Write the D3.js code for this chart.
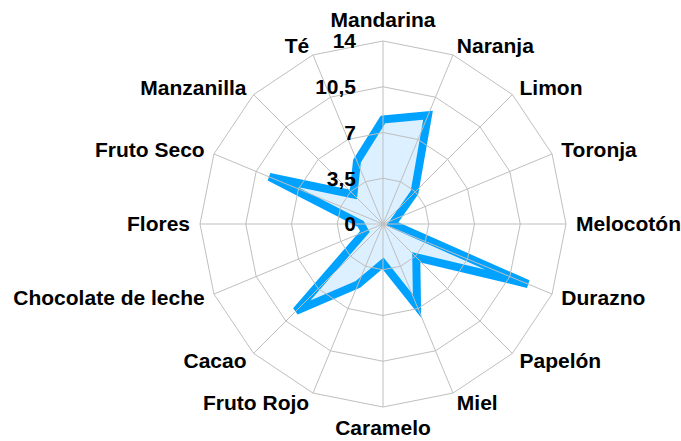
<!DOCTYPE html>
<html>
<head>
<meta charset="utf-8">
<script src="https://cdn.jsdelivr.net/npm/d3@7"></script>
<style>
  body { margin: 0; background: #fff; }
  text { font-family: "Liberation Sans", Arial, sans-serif; font-weight: bold; fill: #000; }
</style>
</head>
<body>
<div id="chart"></div>
<script>
// Categories clockwise from the top
const categories = ["Mandarina", "Naranja", "Limon", "Toronja", "Melocotón", "Durazno",
  "Papelón", "Miel", "Caramelo", "Fruto Rojo", "Cacao", "Chocolate de leche",
  "Flores", "Fruto Seco", "Manzanilla", "Té"];
const values = [8, 9, 3.4, 1.1, 0.7, 12, 3.6, 6.8, 3, 5, 9.4, 1.5, 1.7, 9.4, 3.2, 5.2];
const ticks = [0, 3.5, 7, 10.5, 14];
const tickLabels = ["0", "3,5", "7", "10,5", "14"];

const width = 681, height = 441;
const cx = 383, cy = 224, R = 183;

const svg = d3.select("#chart").append("svg")
  .attr("width", width)
  .attr("height", height);

const r = d3.scaleLinear().domain([0, 14]).range([0, R]);
const angle = d3.scaleLinear().domain([0, categories.length]).range([0, 2 * Math.PI]);

const pt = (i, v) => [cx + Math.sin(angle(i)) * r(v), cy - Math.cos(angle(i)) * r(v)];

// series area
const line = d3.line().curve(d3.curveLinearClosed);
svg.append("path")
  .attr("d", line(values.map((v, i) => pt(i, v))))
  .attr("fill", "#dcf0ff")
  .attr("stroke", "#00a2ff")
  .attr("stroke-width", 8)
  .attr("stroke-linejoin", "miter")
  .attr("stroke-miterlimit", 4);

// grid rings
const grid = svg.append("g").attr("stroke", "#bfbfbf").attr("fill", "none");
ticks.slice(1).forEach(t => {
  grid.append("path").attr("d", line(categories.map((c, i) => pt(i, t))));
});
// spokes
categories.forEach((c, i) => {
  const [x, y] = pt(i, 14);
  grid.append("line").attr("x1", cx).attr("y1", cy).attr("x2", x).attr("y2", y);
});

// tick labels
svg.append("g").selectAll("text")
  .data(ticks)
  .join("text")
  .attr("x", 356)
  .attr("y", d => cy - r(d))
  .attr("dy", "0.35em")
  .attr("text-anchor", "end")
  .attr("font-size", 21)
  .text((d, i) => tickLabels[i]);

// category labels
svg.append("g").selectAll("text")
  .data(categories)
  .join("text")
  .each(function(d, i) {
    const a = angle(i);
    const s = Math.sin(a), c = Math.cos(a);
    let x = cx + s * (R + 10), y = cy - c * (R + 10);
    let anchor = "middle";
    if (Math.abs(s) > 0.1) anchor = s > 0 ? "start" : "end";
    else y -= c * 11;
    d3.select(this)
      .attr("x", x)
      .attr("y", y)
      .attr("dy", "0.35em")
      .attr("text-anchor", anchor)
      .attr("font-size", 21)
      .text(d);
  });
</script>
</body>
</html>
